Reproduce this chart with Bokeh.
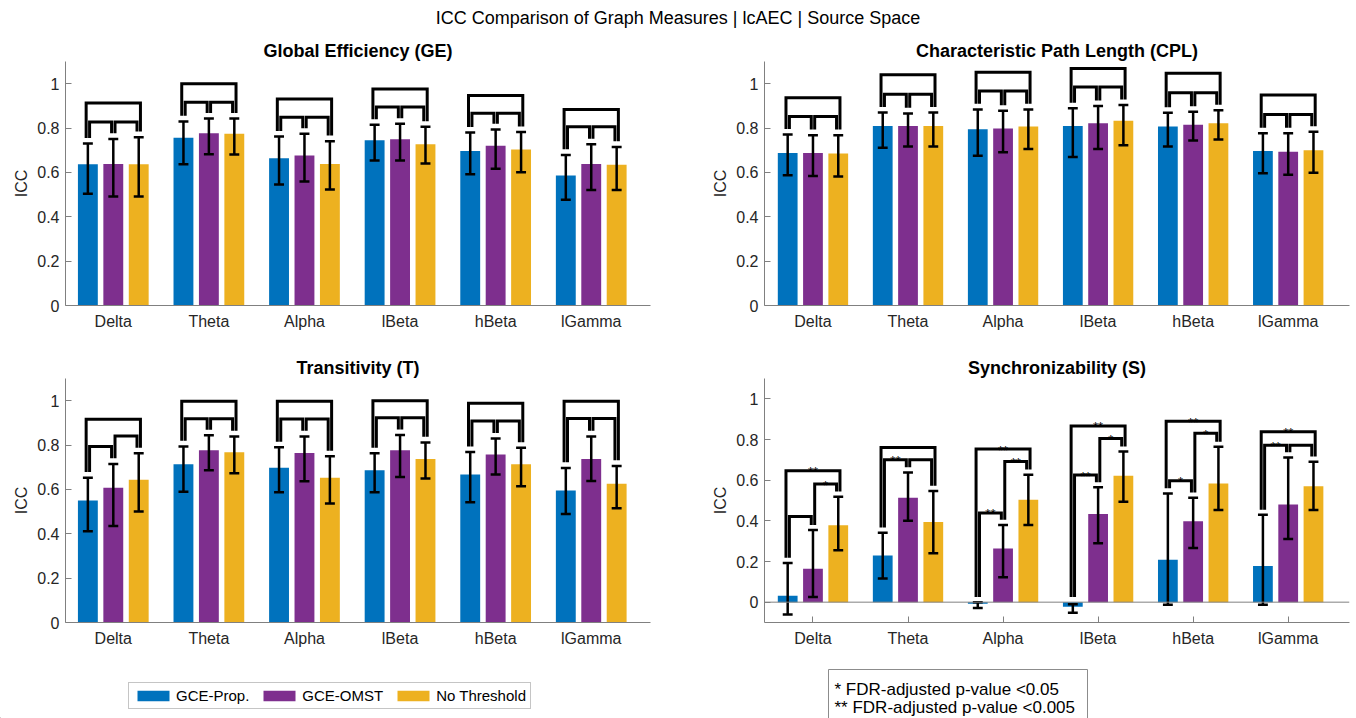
import numpy as np
from bokeh.plotting import figure
from bokeh.models import ColumnDataSource, FixedTicker, Legend, LegendItem, Label, Span, Range1d, Div, BoxAnnotation
from bokeh.layouts import column, row
from bokeh.core.properties import value
from bokeh.embed import file_html
from bokeh.resources import INLINE

FONT = "Liberation Sans"
bands = ["Delta", "Theta", "Alpha", "lBeta", "hBeta", "lGamma"]
series_names = ["GCE-Prop.", "GCE-OMST", "No Threshold"]
series_colors = ["#0072BD", "#7E2F8E", "#EDB120"]
ytick_vals = [0, 0.2, 0.4, 0.6, 0.8, 1.0]
ytick_labels = ["0", "0.2", "0.4", "0.6", "0.8", "1"]
suptitle = "ICC Comparison of Graph Measures | lcAEC | Source Space"
note_text = "* FDR-adjusted p-value <0.05\n** FDR-adjusted p-value <0.005"

# ---------------- Global Efficiency (GE)
ge_prop = [0.637, 0.756, 0.664, 0.745, 0.697, 0.586]
ge_prop_lo = [0.504, 0.637, 0.545, 0.654, 0.592, 0.477]
ge_prop_hi = [0.730, 0.830, 0.762, 0.815, 0.780, 0.679]
ge_omst = [0.638, 0.777, 0.676, 0.750, 0.720, 0.638]
ge_omst_lo = [0.491, 0.682, 0.559, 0.654, 0.617, 0.521]
ge_omst_hi = [0.751, 0.843, 0.774, 0.819, 0.794, 0.727]
ge_none = [0.637, 0.774, 0.638, 0.727, 0.703, 0.634]
ge_none_lo = [0.491, 0.681, 0.523, 0.640, 0.601, 0.521]
ge_none_hi = [0.759, 0.843, 0.741, 0.806, 0.782, 0.715]
ge_br_outer = [0.913, 1.000, 0.931, 0.976, 0.947, 0.884]
ge_br_pair1 = [0.827, 0.916, 0.849, 0.895, 0.867, 0.806]
ge_br_pair2 = [0.827, 0.916, 0.849, 0.895, 0.867, 0.806]

# ---------------- Characteristic Path Length (CPL)
cpl_prop = [0.687, 0.809, 0.795, 0.809, 0.807, 0.696]
cpl_prop_lo = [0.587, 0.711, 0.675, 0.670, 0.717, 0.596]
cpl_prop_hi = [0.771, 0.870, 0.884, 0.889, 0.869, 0.776]
cpl_omst = [0.687, 0.809, 0.798, 0.822, 0.815, 0.693]
cpl_omst_lo = [0.584, 0.717, 0.691, 0.706, 0.744, 0.589]
cpl_omst_hi = [0.768, 0.866, 0.878, 0.899, 0.873, 0.776]
cpl_none = [0.685, 0.809, 0.807, 0.833, 0.822, 0.700]
cpl_none_lo = [0.581, 0.717, 0.705, 0.723, 0.748, 0.599]
cpl_none_hi = [0.768, 0.870, 0.884, 0.904, 0.880, 0.783]
cpl_br_outer = [0.937, 1.040, 1.051, 1.069, 1.047, 0.949]
cpl_br_pair1 = [0.852, 0.952, 0.967, 0.985, 0.959, 0.861]
cpl_br_pair2 = [0.852, 0.952, 0.967, 0.985, 0.959, 0.861]

# ---------------- Transitivity (T)
t_prop = [0.550, 0.713, 0.698, 0.686, 0.667, 0.595]
t_prop_lo = [0.411, 0.589, 0.587, 0.587, 0.542, 0.489]
t_prop_hi = [0.653, 0.794, 0.790, 0.763, 0.769, 0.697]
t_omst = [0.608, 0.776, 0.764, 0.776, 0.757, 0.737]
t_omst_lo = [0.435, 0.686, 0.637, 0.656, 0.667, 0.638]
t_omst_hi = [0.715, 0.844, 0.839, 0.845, 0.829, 0.839]
t_none = [0.643, 0.767, 0.653, 0.737, 0.713, 0.626]
t_none_lo = [0.500, 0.673, 0.536, 0.649, 0.614, 0.515]
t_none_hi = [0.763, 0.839, 0.749, 0.812, 0.788, 0.706]
t_br_outer = [0.916, 0.997, 0.997, 1.000, 0.988, 0.997]
t_br_pair1 = [0.793, 0.919, 0.917, 0.923, 0.908, 0.920]
t_br_pair2 = [0.841, 0.919, 0.917, 0.923, 0.908, 0.920]

# ---------------- Synchronizability (S)
s_prop = [0.031, 0.229, -0.008, -0.023, 0.209, 0.178]
s_prop_lo = [-0.061, 0.116, -0.029, -0.052, -0.013, -0.013]
s_prop_hi = [0.193, 0.342, 0.000, -0.010, 0.535, 0.430]
s_omst = [0.164, 0.514, 0.264, 0.434, 0.398, 0.480]
s_omst_lo = [0.025, 0.401, 0.123, 0.290, 0.267, 0.311]
s_omst_hi = [0.355, 0.638, 0.380, 0.565, 0.514, 0.712]
s_none = [0.378, 0.394, 0.504, 0.622, 0.583, 0.570]
s_none_lo = [0.255, 0.241, 0.380, 0.494, 0.453, 0.453]
s_none_hi = [0.519, 0.547, 0.627, 0.741, 0.764, 0.691]
s_br_outer = [0.646, 0.761, 0.753, 0.867, 0.890, 0.838]
s_br_pair1 = [0.421, 0.700, 0.439, 0.625, 0.597, 0.772]
s_br_pair2 = [0.581, 0.700, 0.692, 0.805, 0.831, 0.772]
s_star_outer = ["**", "", "**", "**", "**", "**"]
s_star_pair1 = ["", "**", "**", "**", "*", "**"]
s_star_pair2 = ["*", "", "**", "*", "*", ""]

# ---------------- layout / style constants
OFFS = [-0.266, 0.0, 0.266]
BAR_W = 0.208
LEG_D = 0.018
LEG_GAP = 0.025
FRAME_W, FRAME_H = 585, 244
AX_COL = "#808080"
TXT_COL = "#262626"
FOOT_H = 60


def build(title, vals, los, his, outer, pair1, pair2, stars, ylo, xlo, xhi,
          b_right, b_top, b_bottom, xticks_in):
    p = figure(frame_width=FRAME_W, frame_height=FRAME_H,
               x_range=Range1d(xlo, xhi), y_range=Range1d(ylo, 1.1),
               output_backend="svg", toolbar_location=None,
               min_border_left=65, min_border_right=b_right,
               min_border_top=b_top, min_border_bottom=b_bottom,
               title=title)
    p.outline_line_color = None
    p.xgrid.visible = False
    p.ygrid.visible = False
    p.background_fill_color = "white"
    p.border_fill_color = "white"
    p.title.text_font = FONT
    p.title.text_font_size = "18px"
    p.title.text_font_style = "bold"
    p.title.text_color = "#000000"
    p.title.align = "center"
    p.title.standoff = 1

    for ax in (p.xaxis, p.yaxis):
        ax.axis_line_color = AX_COL
        ax.major_tick_line_color = AX_COL
        ax.minor_tick_line_color = None
        ax.major_tick_out = 0
        ax.major_label_text_font = FONT
        ax.major_label_text_font_size = "16px"
        ax.major_label_text_color = TXT_COL
    p.yaxis.major_tick_in = 6
    p.yaxis.ticker = FixedTicker(ticks=ytick_vals)
    p.yaxis.major_label_overrides = {v: s for v, s in zip(ytick_vals, ytick_labels)}
    p.yaxis.major_label_standoff = 6
    p.yaxis.axis_label = "ICC"
    p.yaxis.axis_label_text_font = FONT
    p.yaxis.axis_label_text_font_size = "16px"
    p.yaxis.axis_label_text_font_style = "normal"
    p.yaxis.axis_label_text_color = TXT_COL
    p.yaxis.axis_label_standoff = 4
    xt = list(range(1, len(bands) + 1))
    p.xaxis.ticker = FixedTicker(ticks=xt)
    p.xaxis.major_label_overrides = {i: b for i, b in zip(xt, bands)}
    p.xaxis.major_label_standoff = 7
    p.xaxis.major_tick_in = 6 if xticks_in else 0

    if ylo < 0:
        p.add_layout(Span(location=0, dimension="width", line_color=AX_COL, line_width=1))

    x = np.arange(1, len(bands) + 1)
    rends = []
    for k in range(3):
        xs = x + OFFS[k]
        src = ColumnDataSource(dict(x=xs, top=vals[k], lo=los[k], hi=his[k],
                                    cl=xs - 0.052, cr=xs + 0.052))
        r = p.vbar(x="x", top="top", bottom=0, width=BAR_W, source=src,
                   fill_color=series_colors[k], line_color=None)
        rends.append(r)
        p.segment(x0="x", y0="lo", x1="x", y1="hi", source=src, line_color="black", line_width=2.5)
        p.segment(x0="cl", y0="hi", x1="cr", y1="hi", source=src, line_color="black", line_width=2.5)
        p.segment(x0="cl", y0="lo", x1="cr", y1="lo", source=src, line_color="black", line_width=2.5)

    bxs, bys = [], []
    sx, sy, st = [], [], []
    for i in range(len(bands)):
        c = [i + 1 + o for o in OFFS]
        b = [max(his[k][i], 0) + LEG_GAP for k in range(3)]
        bxs.append([c[0] - LEG_D, c[0] - LEG_D, c[2] + LEG_D, c[2] + LEG_D])
        bys.append([b[0], outer[i], outer[i], b[2]])
        bxs.append([c[0] + LEG_D, c[0] + LEG_D, c[1] - LEG_D, c[1] - LEG_D])
        bys.append([b[0], pair1[i], pair1[i], b[1]])
        bxs.append([c[1] + LEG_D, c[1] + LEG_D, c[2] - LEG_D, c[2] - LEG_D])
        bys.append([b[1], pair2[i], pair2[i], b[2]])
        if stars is not None:
            for s, yy, xm in ((stars[0][i], outer[i], (c[0] + c[2]) / 2),
                              (stars[1][i], pair1[i], (c[0] + c[1]) / 2),
                              (stars[2][i], pair2[i], (c[1] + c[2]) / 2)):
                if s:
                    sx.append(xm); sy.append(yy); st.append(s)
    p.multi_line(xs=bxs, ys=bys, line_color="black", line_width=3, line_join="miter")
    if st:
        p.text(x=sx, y=sy, text=st, text_font=value(FONT), text_font_size="13px",
               text_align="center", text_baseline="alphabetic", y_offset=1, text_color="black")
    return p, rends


p1, _ = build("Global Efficiency (GE)",
              [ge_prop, ge_omst, ge_none], [ge_prop_lo, ge_omst_lo, ge_none_lo],
              [ge_prop_hi, ge_omst_hi, ge_none_hi],
              ge_br_outer, ge_br_pair1, ge_br_pair2, None, 0, 0.5, 6.62, 49, 25, 40, False)
p2, _ = build("Characteristic Path Length (CPL)",
              [cpl_prop, cpl_omst, cpl_none], [cpl_prop_lo, cpl_omst_lo, cpl_none_lo],
              [cpl_prop_hi, cpl_omst_hi, cpl_none_hi],
              cpl_br_outer, cpl_br_pair1, cpl_br_pair2, None, 0, 0.49, 6.645, 7, 25, 40, False)
p3, r3 = build("Transitivity (T)",
               [t_prop, t_omst, t_none], [t_prop_lo, t_omst_lo, t_none_lo],
               [t_prop_hi, t_omst_hi, t_none_hi],
               t_br_outer, t_br_pair1, t_br_pair2, None, 0, 0.5, 6.62, 49, 33, 36, False)
p4, _ = build("Synchronizability (S)",
              [s_prop, s_omst, s_none], [s_prop_lo, s_omst_lo, s_none_lo],
              [s_prop_hi, s_omst_hi, s_none_hi],
              s_br_outer, s_br_pair1, s_br_pair2,
              [s_star_outer, s_star_pair1, s_star_pair2], -0.1, 0.49, 6.645, 7, 33, 36, True)

# ---------------- footer strip with the legend and the significance note
foot = figure(frame_width=1356, frame_height=FOOT_H, x_range=Range1d(0, 1356),
              y_range=Range1d(0, FOOT_H), x_axis_type=None, y_axis_type=None,
              output_backend="svg", toolbar_location=None,
              min_border_left=0, min_border_right=0, min_border_top=0, min_border_bottom=0)
foot.outline_line_color = None
foot.xgrid.visible = False
foot.ygrid.visible = False
# legend keys only: drawn off the visible range of this strip
dummies = [foot.vbar(x=[-100], top=[1], width=1, fill_color=c, line_color=None) for c in series_colors]
legend = Legend(items=[LegendItem(label=n, renderers=[r]) for n, r in zip(series_names, dummies)],
                orientation="horizontal", location=(128, 9),
                glyph_width=40, glyph_height=13, label_height=13,
                label_text_font=FONT, label_text_font_size="15px", label_text_color="black",
                label_standoff=3, spacing=10, padding=4, margin=0,
                border_line_color="#8c8c8c", border_line_width=1,
                background_fill_color="white", background_fill_alpha=1.0)
foot.add_layout(legend)
foot.add_layout(BoxAnnotation(left=828, right=1087, top=FOOT_H - 11, bottom=-5,
                              fill_color="white", fill_alpha=1.0,
                              line_color="#8c8c8c", line_width=1, line_alpha=1.0))
note = Label(x=834, y=FOOT_H - 21, x_units="data", y_units="data",
             text=note_text, anchor="top_left", text_font=FONT, text_font_size="17px",
             text_line_height=0.95, text_color="black", padding=0)
foot.add_layout(note)

head = Div(text='<div style="width:1356px;text-align:center;font-family:\'Liberation Sans\';'
                'font-size:18px;line-height:36px;color:#000;">' + suptitle + '</div>',
           width=1356, height=36, margin=(0, 0, 0, 0))

layout = column(head, row(p1, p2, spacing=0), row(p3, p4, spacing=0), foot, spacing=0)
open("out.html", "w").write(file_html(layout, INLINE))
